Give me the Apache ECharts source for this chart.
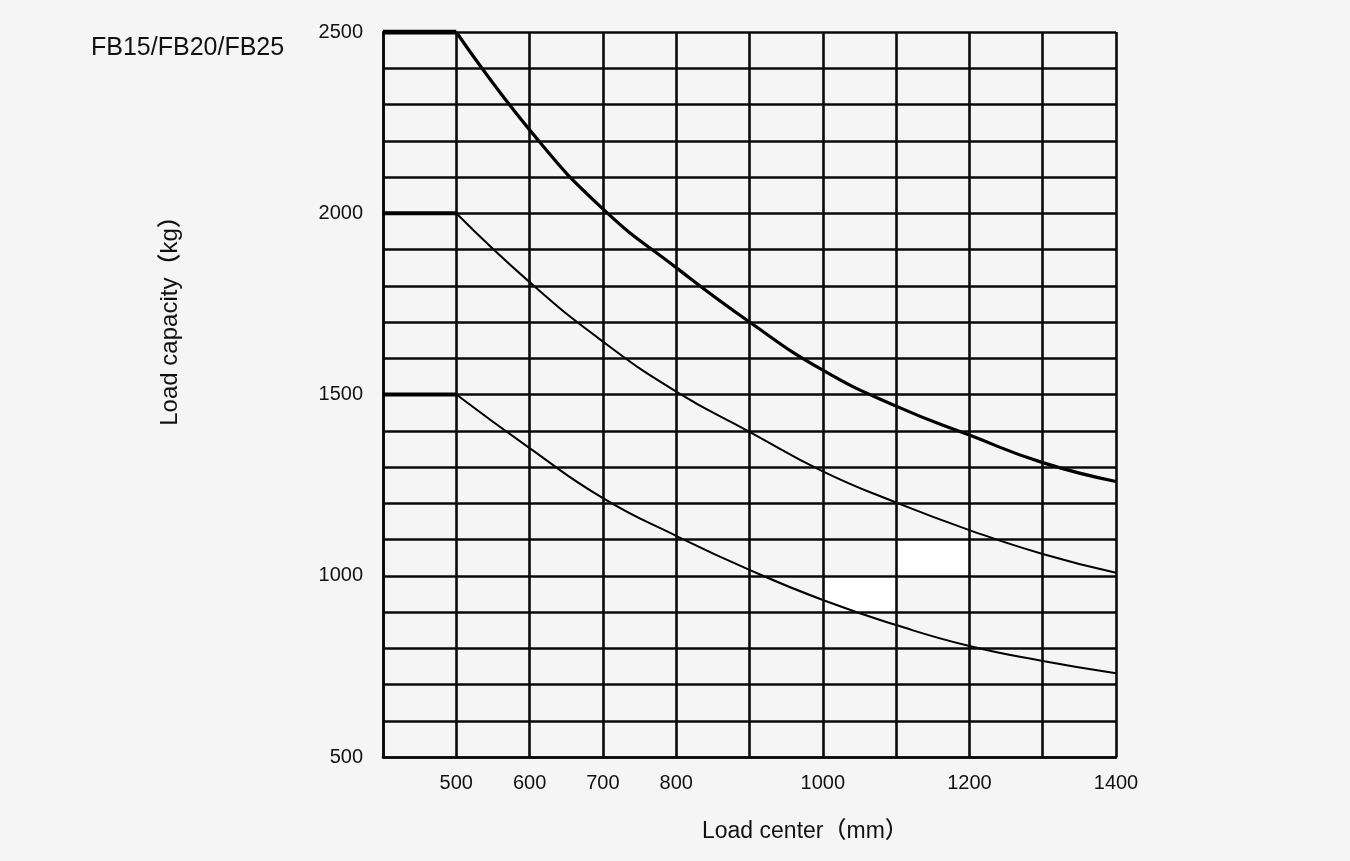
<!DOCTYPE html>
<html>
<head>
<meta charset="utf-8">
<script src="https://cdn.jsdelivr.net/npm/echarts@6/dist/echarts.min.js"></script>
<style>
html,body{margin:0;padding:0;background:#f5f5f5;}
#c{width:1350px;height:861px;}
</style>
</head>
<body>
<div id="c"></div>
<script>
const title = 'FB15/FB20/FB25';
const xName = 'Load center（mm）';
const yName = 'Load capacity（kg）';
const loadCenters = [400, 500, 600, 700, 800, 900, 1000, 1100, 1200, 1300, 1400];
const fb25 = [2500, 2500, 2230, 2012, 1850, 1700, 1567, 1468, 1388, 1312, 1260];
const fb20 = [2000, 2000, 1810, 1646, 1508, 1397, 1288, 1202, 1126, 1060, 1008];
const fb15 = [1500, 1500, 1352, 1214, 1110, 1016, 933, 864, 806, 765, 731];
const xTickLabels = [500, 600, 700, 800, 1000, 1200, 1400];
const yTickLabels = [500, 1000, 1500, 2000, 2500];
const whiteCells = [[[1000, 900], [1100, 1000]], [[1100, 1000], [1200, 1100]]];

const pairs = arr => loadCenters.map((x, i) => [x, arr[i]]);
const flat = arr => pairs(arr).slice(0, 2);
const curve = arr => pairs(arr).slice(1);

const font = 'Liberation Sans, Arial, "Noto Sans CJK SC", sans-serif';
const chart = echarts.init(document.getElementById('c'));
const lineStyle = w => ({ color: '#000', width: w });
chart.setOption({
  backgroundColor: '#f5f5f5',
  animation: false,
  title: {
    text: title, left: 86, top: 31,
    textStyle: { fontFamily: font, fontSize: 25, fontWeight: 'normal', color: '#111' }
  },
  grid: { left: 383, right: 234, top: 32, bottom: 104 },
  xAxis: {
    type: 'value', min: 400, max: 1400, interval: 100, z: 5,
    axisLine: { show: true, lineStyle: { color: '#0a0a0a', width: 2.6 } },
    axisTick: { show: false },
    splitLine: { show: true, lineStyle: { color: '#0a0a0a', width: 2.6 } },
    axisLabel: {
      margin: 16, color: '#111', fontSize: 20, fontFamily: font,
      formatter: v => xTickLabels.includes(v) ? String(v) : ''
    }
  },
  yAxis: {
    type: 'value', min: 500, max: 2500, interval: 100, z: 5,
    axisLine: { show: true, lineStyle: { color: '#0a0a0a', width: 2.6 } },
    axisTick: { show: false },
    splitLine: { show: true, lineStyle: { color: '#0a0a0a', width: 2.6 } },
    axisLabel: {
      margin: 20, color: '#111', fontSize: 20, fontFamily: font,
      formatter: v => yTickLabels.includes(v) ? String(v) : ''
    }
  },
  graphic: [
    { type: 'text', left: 702, top: 820, style: { text: xName, fontSize: 23, fontWeight: 500, fontFamily: font, fill: '#111' } },
    { type: 'text', x: 170, y: 315, rotation: Math.PI / 2, style: { text: yName, fontSize: 24, fontWeight: 500, fontFamily: font, fill: '#111', align: 'center', verticalAlign: 'middle' } }
  ],
  series: [
    {
      type: 'line', data: curve(fb25), smooth: 0.5, symbol: 'none', lineStyle: lineStyle(3.2), z: 2,
      markArea: {
        silent: true,
        itemStyle: { color: '#ffffff' },
        data: whiteCells.map(c => [{ coord: c[0] }, { coord: c[1] }])
      }
    },
    { type: 'line', data: curve(fb20), smooth: 0.5, symbol: 'none', lineStyle: lineStyle(2), z: 2 },
    { type: 'line', data: curve(fb15), smooth: 0.5, symbol: 'none', lineStyle: lineStyle(2), z: 2 },
    { type: 'line', data: flat(fb25), symbol: 'none', lineStyle: lineStyle(5), z: 6 },
    { type: 'line', data: flat(fb20), symbol: 'none', lineStyle: lineStyle(4), z: 6 },
    { type: 'line', data: flat(fb15), symbol: 'none', lineStyle: lineStyle(4), z: 6 }
  ]
});
</script>
</body>
</html>
